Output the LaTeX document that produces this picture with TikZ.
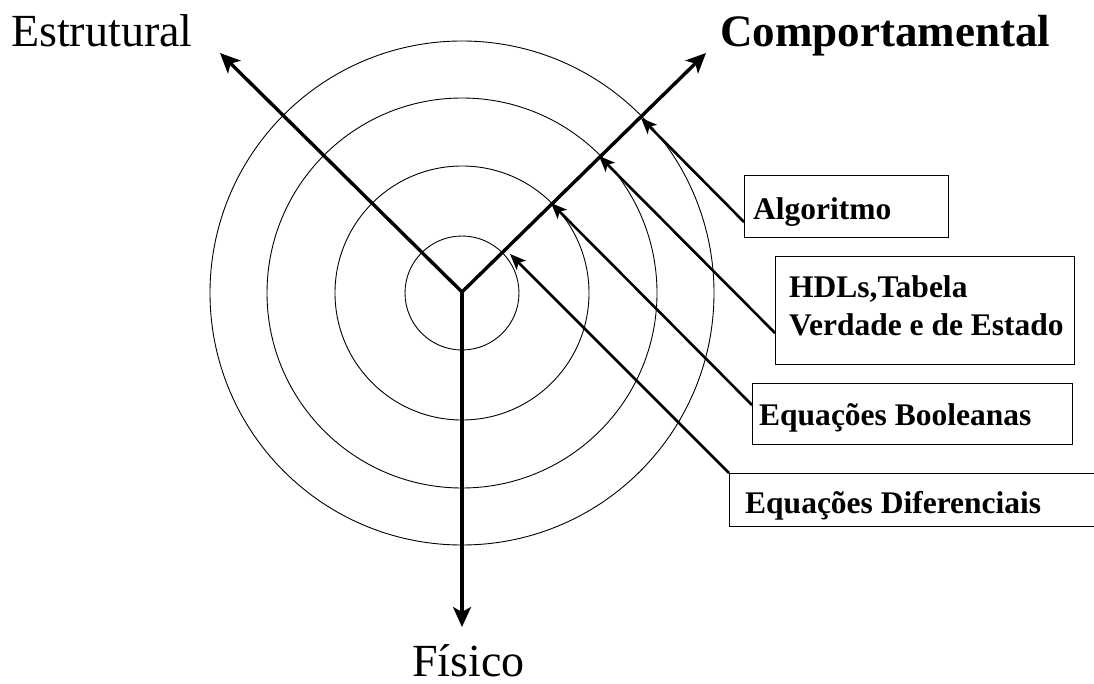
\documentclass[tikz,border=0pt]{standalone}
\usepackage{fontspec}
\setmainfont{Liberation Serif}
\usetikzlibrary{arrows.meta,calc}
\begin{document}
\begin{tikzpicture}[x=1pt,y=-1pt,
  ring/.style={line width=0.9pt},
  axisline/.style={line width=3.4pt,-{Stealth[length=20pt,width=18pt,inset=5pt]}},
  labarrow/.style={line width=2.6pt,-{Stealth[length=16pt,width=13pt,inset=4pt]}},
  labbox/.style={draw,line width=1pt,anchor=north west,inner sep=0pt},
  boxtext/.style={font=\fontsize{31.5}{38}\selectfont\bfseries,anchor=base west,inner sep=0pt},
  bigtext/.style={font=\fontsize{46}{55}\selectfont,anchor=base west,inner sep=0pt}]
\useasboundingbox (0,0) rectangle (1094,684);

% centre of the rings and vertex of the axes
\coordinate (c) at (462,293);
\coordinate (v) at (462,292);

% rings
\draw[ring] (c) circle[radius=57];
\draw[ring] (c) circle[radius=127];
\draw[ring] (c) circle[radius=195];
\draw[ring] (c) circle[radius=252];

% axis tips
\coordinate (estr) at (220,53);
\coordinate (comp) at (706,53);
\coordinate (fis) at (462,627);

\draw[axisline] (v) -- (estr);
\draw[axisline] (v) -- (comp);
\draw[axisline] (v) -- (fis);

% axis labels
\node[bigtext] (lestr) at (11,47) {Estrutural};
\node[bigtext,font=\fontsize{45}{54}\selectfont\bfseries] (lcomp) at (720,47) {Comportamental};
\node[bigtext] (lfis) at (412,676) {Físico};

% boxes
\node[labbox,minimum width=204pt,minimum height=62pt] (b1) at (744,175) {};
\node[labbox,minimum width=299pt,minimum height=108pt] (b2) at (775,256) {};
\node[labbox,minimum width=320pt,minimum height=61pt] (b3) at (752,383) {};
\node[labbox,minimum width=420pt,minimum height=53pt] (b4) at (729,473) {};

% box texts
\node[boxtext] (t1) at (753,220) {Algoritmo};
\node[boxtext] (t2a) at (789,298) {HDLs,Tabela};
\node[boxtext] (t2b) at (789,335) {Verdade e de Estado};
\node[boxtext] (t3) at (759,425) {Equações Booleanas};
\node[boxtext] (t4) at (745,513) {Equações Diferenciais};

% label arrow ends
\coordinate (s1) at (744,222);
\coordinate (s2) at (775,333);
\coordinate (s3) at (752,405);
\coordinate (s4) at (729,473);
\coordinate (e1) at (641,118);
\coordinate (e2) at (599,156);
\coordinate (e3) at (551,203);
\coordinate (e4) at (510,254);

\draw[labarrow] (s1) -- (e1);
\draw[labarrow] (s2) -- (e2);
\draw[labarrow] (s3) -- (e3);
\draw[labarrow] (s4) -- (e4);
\end{tikzpicture}
\end{document}
